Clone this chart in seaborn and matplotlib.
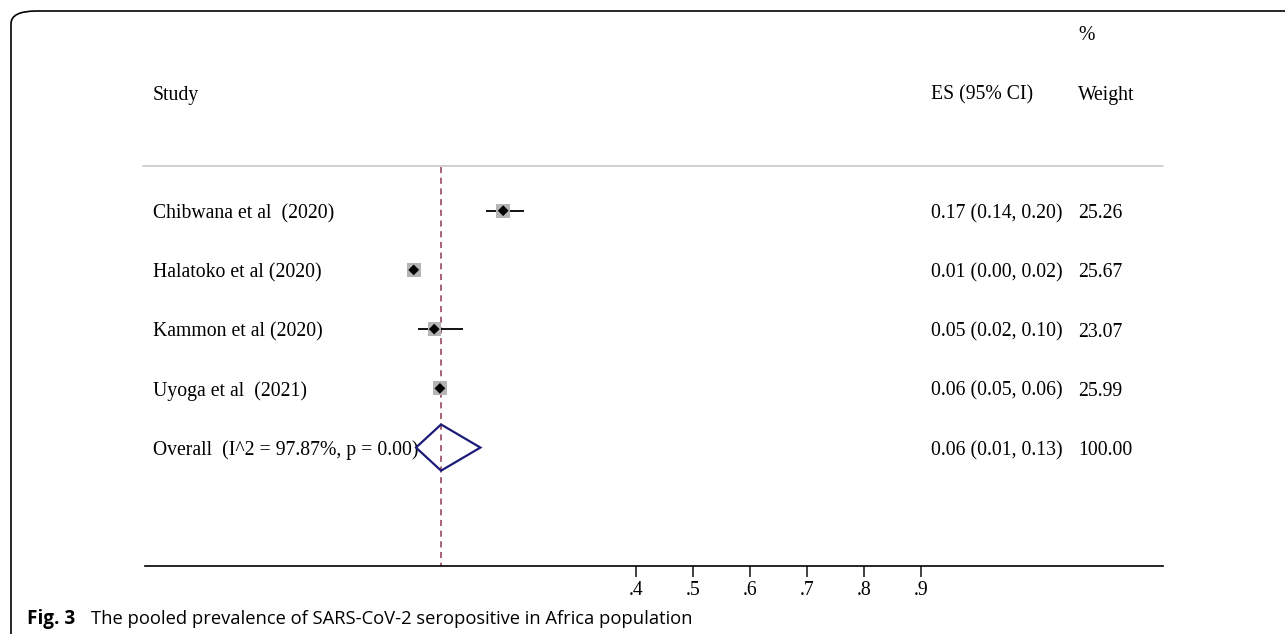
import numpy as np
import pandas as pd
import matplotlib
matplotlib.use('Agg')
import matplotlib.pyplot as plt
import seaborn as sns
from matplotlib.patches import FancyBboxPatch, Polygon

# 研究数据
studies = ['Chibwana et al  (2020)', 'Halatoko et al (2020)', 'Kammon et al (2020)', 'Uyoga et al  (2021)']
es = [0.167, 0.010, 0.046, 0.056]
ci_low = [0.136, 0.004, 0.018, 0.050]
ci_high = [0.204, 0.016, 0.096, 0.062]
es_text = ['0.17 (0.14, 0.20)', '0.01 (0.00, 0.02)', '0.05 (0.02, 0.10)', '0.06 (0.05, 0.06)']
weights = ['25.26', '25.67', '23.07', '25.99']

overall_label = 'Overall  (I^2 = 97.87%, p = 0.00)'
overall_es = 0.058
overall_low = 0.014
overall_high = 0.127
overall_text = '0.06 (0.01, 0.13)'
overall_weight = '100.00'

tick_vals = [0.4, 0.5, 0.6, 0.7, 0.8, 0.9]
tick_labels = ['.4', '.5', '.6', '.7', '.8', '.9']

sns.set_theme(style='white')
plt.rcParams['font.family'] = ['Liberation Serif', 'DejaVu Serif']
plt.rcParams['text.color'] = 'black'
plt.rcParams['xtick.color'] = 'black'

W, H = 1285, 634
fig = plt.figure(figsize=(W / 100, H / 100), dpi=100)
ax = fig.add_axes([145 / W, 1 - 566 / H, (1163 - 145) / W, (566 - 20) / H])

# x 轴数据范围：0 在 408px，每 0.1 = 57px
x0, scale = 408, 570
ax.set_xlim((145 - x0) / scale, (1163 - x0) / scale)
ax.set_ylim(6, -3.22)

df = pd.DataFrame({'study': studies, 'es': es, 'lo': ci_low, 'hi': ci_high,
                   'row': range(len(studies)), 'w': [float(w) for w in weights]})

# 置信区间
ax.hlines(df['row'], df['lo'], df['hi'], color='black', lw=1.3, zorder=2)
# 权重方块
sns.scatterplot(data=df, x='es', y='row', size='w', sizes=(92, 104), marker='s',
                color='#b4b4b4', edgecolor='none', legend=False, ax=ax, zorder=3)
# 点估计
sns.scatterplot(data=df, x='es', y='row', marker='D', s=30, color='black',
                edgecolor='none', legend=False, ax=ax, zorder=4)

# 汇总菱形
orow = len(studies)
dh = 0.39
ax.add_patch(Polygon([[overall_low, orow], [overall_es, orow - dh],
                      [overall_high, orow], [overall_es, orow + dh]],
                     closed=True, fill=False, edgecolor='#1c1c78', lw=1.6, zorder=4))

# 汇总效应虚线
ax.plot([overall_es, overall_es], [-0.73, 6], color='#8e3b4e', lw=1.1,
        ls=(0, (4, 3)), zorder=1)

# 分隔线
ax.plot([(143 - x0) / scale, (1163 - x0) / scale], [-0.76, -0.76], color='#c8c8c8',
        lw=1.2, clip_on=False)

# 文本列（略向下偏移以对齐）
fs = 14.2
dy = 0.05
col_study = (153 - x0) / scale
col_es = (931 - x0) / scale
col_w = (1078 - x0) / scale
ax.text(col_study, -2 + dy, 'Study', fontsize=fs, va='center')
ax.text(col_es, -2 + dy, 'ES (95% CI)', fontsize=fs, va='center')
ax.text(col_w, -2 + dy, 'Weight', fontsize=fs, va='center')
ax.text(col_w, -3 + dy, '%', fontsize=fs, va='center')
for i in range(len(studies)):
    ax.text(col_study, i + dy, studies[i], fontsize=fs, va='center')
    ax.text(col_es, i + dy, es_text[i], fontsize=fs, va='center')
    ax.text(col_w, i + dy, weights[i], fontsize=fs, va='center')
ax.text(col_study, orow + dy, overall_label, fontsize=fs, va='center')
ax.text(col_es, orow + dy, overall_text, fontsize=fs, va='center')
ax.text(col_w, orow + dy, overall_weight, fontsize=fs, va='center')

# 坐标轴
for s in ['top', 'left', 'right']:
    ax.spines[s].set_visible(False)
ax.spines['bottom'].set_color('black')
ax.spines['bottom'].set_linewidth(1.2)
ax.set_yticks([])
ax.set_xticks(tick_vals)
ax.set_xticklabels(tick_labels, fontsize=fs)
ax.tick_params(axis='x', direction='out', length=8, width=1.3, color='#333333',
               bottom=True, pad=3)
ax.set_xlabel('')
ax.set_ylabel('')
ax.patch.set_alpha(0)

# 外框（圆角）
fig.patches.append(FancyBboxPatch((11 / W, -0.2), 1.2, 1 - 11 / H + 0.2,
                                  boxstyle='round,pad=0,rounding_size=0.02',
                                  transform=fig.transFigure, fill=False,
                                  edgecolor='black', lw=1.2, clip_on=False))

# 图注
cap_font = ['Open Sans', 'DejaVu Sans']
fig.text(27 / W, 1 - 619 / H, 'Fig. 3', fontsize=13.6, fontweight='bold',
         family=cap_font, va='center')
fig.text(91 / W, 1 - 619 / H, 'The pooled prevalence of SARS-CoV-2 seropositive in Africa population',
         fontsize=13.2, family=cap_font, va='center')

fig.savefig('out.png', dpi=100)
